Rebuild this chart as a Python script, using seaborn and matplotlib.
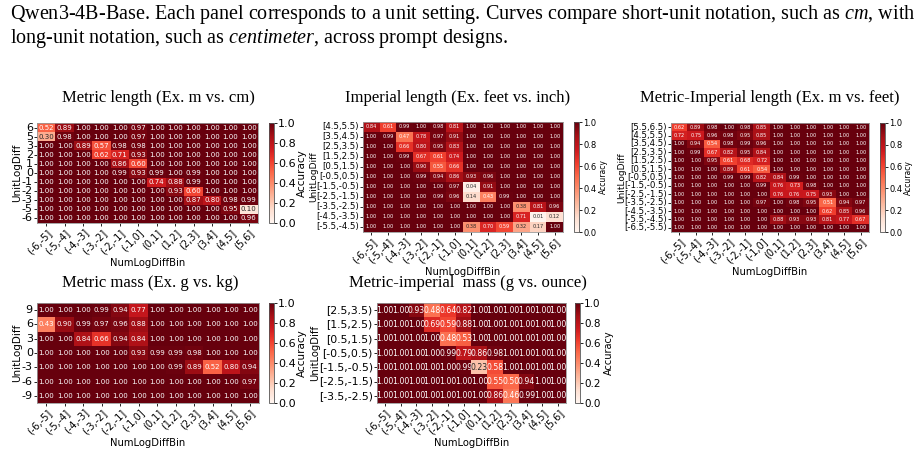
#!/usr/bin/env python3
import matplotlib
matplotlib.use("Agg")
import matplotlib.pyplot as plt
import pandas as pd
import numpy as np
import seaborn as sns

# colonne comuni a tutti i pannelli
num_bins = ["(-6,-5]", "(-5,-4]", "(-4,-3]", "(-3,-2]", "(-2,-1]", "(-1,0]",
            "(0,1]", "(1,2]", "(2,3]", "(3,4]", "(4,5]", "(5,6]"]

# Metric length (Ex. m vs. cm)
metric_len_rows = ["6", "5", "3", "2", "1", "0", "-1", "-2", "-3", "-5", "-6"]
metric_len = [
    [0.52, 0.89, 1.00, 1.00, 1.00, 0.97, 1.00, 1.00, 1.00, 1.00, 1.00, 1.00],
    [0.30, 0.98, 1.00, 1.00, 1.00, 0.97, 1.00, 1.00, 1.00, 1.00, 1.00, 1.00],
    [1.00, 1.00, 0.89, 0.57, 0.98, 0.98, 1.00, 1.00, 1.00, 1.00, 1.00, 1.00],
    [1.00, 1.00, 1.00, 0.62, 0.71, 0.93, 1.00, 1.00, 1.00, 1.00, 1.00, 1.00],
    [1.00, 1.00, 1.00, 1.00, 0.86, 0.60, 1.00, 1.00, 1.00, 1.00, 1.00, 1.00],
    [1.00, 1.00, 1.00, 1.00, 0.99, 0.93, 0.99, 1.00, 0.99, 1.00, 1.00, 1.00],
    [1.00, 1.00, 1.00, 1.00, 1.00, 1.00, 0.74, 0.88, 0.99, 1.00, 1.00, 1.00],
    [1.00, 1.00, 1.00, 1.00, 1.00, 1.00, 1.00, 0.93, 0.60, 1.00, 1.00, 1.00],
    [1.00, 1.00, 1.00, 1.00, 1.00, 1.00, 1.00, 1.00, 0.87, 0.80, 0.98, 0.99],
    [1.00, 1.00, 1.00, 1.00, 1.00, 1.00, 1.00, 1.00, 1.00, 1.00, 0.95, 0.10],
    [1.00, 1.00, 1.00, 1.00, 1.00, 1.00, 1.00, 1.00, 1.00, 1.00, 1.00, 0.96],
]

# Imperial length (Ex. feet vs. inch)
imp_len_rows = ["[4.5,5.5)", "[3.5,4.5)", "[2.5,3.5)", "[1.5,2.5)", "[0.5,1.5)",
                "[-0.5,0.5)", "[-1.5,-0.5)", "[-2.5,-1.5)", "[-3.5,-2.5)",
                "[-4.5,-3.5)", "[-5.5,-4.5)"]
imp_len = [
    [0.84, 0.61, 0.99, 1.00, 0.98, 0.81, 1.00, 1.00, 1.00, 1.00, 1.00, 1.00],
    [1.00, 0.99, 0.47, 0.78, 0.97, 0.91, 1.00, 1.00, 1.00, 1.00, 1.00, 1.00],
    [1.00, 1.00, 0.66, 0.80, 0.95, 0.83, 1.00, 1.00, 1.00, 1.00, 1.00, 1.00],
    [1.00, 1.00, 0.99, 0.67, 0.61, 0.74, 1.00, 1.00, 1.00, 1.00, 1.00, 1.00],
    [1.00, 1.00, 1.00, 0.90, 0.55, 0.66, 1.00, 1.00, 1.00, 1.00, 1.00, 1.00],
    [1.00, 1.00, 1.00, 0.99, 0.94, 0.86, 0.93, 0.96, 1.00, 1.00, 1.00, 1.00],
    [1.00, 1.00, 1.00, 1.00, 1.00, 0.97, 0.04, 0.91, 1.00, 1.00, 1.00, 1.00],
    [1.00, 1.00, 1.00, 1.00, 0.99, 0.96, 0.14, 0.43, 0.99, 1.00, 1.00, 1.00],
    [1.00, 1.00, 1.00, 1.00, 1.00, 1.00, 1.00, 1.00, 1.00, 0.38, 0.81, 0.96],
    [1.00, 1.00, 1.00, 1.00, 1.00, 1.00, 1.00, 1.00, 1.00, 0.71, 0.01, 0.12],
    [1.00, 1.00, 1.00, 1.00, 1.00, 1.00, 0.38, 0.70, 0.59, 0.32, 0.17, 1.00],
]

# Metric-Imperial length (Ex. m vs. feet)
mi_len_rows = ["[5.5,6.5)", "[4.5,5.5)", "[3.5,4.5)", "[2.5,3.5)", "[1.5,2.5)",
               "[0.5,1.5)", "[-0.5,0.5)", "[-1.5,-0.5)", "[-2.5,-1.5)",
               "[-3.5,-2.5)", "[-4.5,-3.5)", "[-5.5,-4.5)", "[-6.5,-5.5)"]
mi_len = [
    [0.62, 0.89, 0.98, 1.00, 0.98, 0.85, 1.00, 1.00, 1.00, 1.00, 1.00, 1.00],
    [0.72, 0.75, 0.96, 0.98, 0.95, 0.85, 1.00, 1.00, 1.00, 1.00, 1.00, 1.00],
    [1.00, 0.94, 0.54, 0.98, 0.99, 0.96, 1.00, 1.00, 1.00, 1.00, 1.00, 1.00],
    [1.00, 0.99, 0.67, 0.82, 0.95, 0.84, 1.00, 1.00, 1.00, 1.00, 1.00, 1.00],
    [1.00, 1.00, 0.95, 0.61, 0.68, 0.72, 1.00, 1.00, 1.00, 1.00, 1.00, 1.00],
    [1.00, 1.00, 1.00, 0.89, 0.61, 0.54, 1.00, 1.00, 1.00, 1.00, 1.00, 1.00],
    [1.00, 1.00, 1.00, 0.99, 0.99, 0.82, 0.84, 0.99, 1.00, 1.00, 1.00, 1.00],
    [1.00, 1.00, 1.00, 1.00, 1.00, 0.99, 0.76, 0.73, 0.98, 1.00, 1.00, 1.00],
    [1.00, 1.00, 1.00, 1.00, 1.00, 1.00, 0.76, 0.76, 0.75, 0.93, 1.00, 1.00],
    [1.00, 1.00, 1.00, 1.00, 1.00, 0.97, 1.00, 0.98, 0.95, 0.51, 0.94, 0.97],
    [1.00, 1.00, 1.00, 1.00, 1.00, 1.00, 1.00, 1.00, 1.00, 0.62, 0.85, 0.96],
    [1.00, 1.00, 1.00, 1.00, 1.00, 1.00, 0.88, 0.93, 0.93, 0.81, 0.77, 0.67],
    [1.00, 1.00, 1.00, 1.00, 1.00, 1.00, 1.00, 1.00, 1.00, 1.00, 1.00, 1.00],
]

# Metric mass (Ex. g vs. kg)
metric_mass_rows = ["9", "6", "3", "0", "-3", "-6", "-9"]
metric_mass = [
    [1.00, 1.00, 1.00, 0.99, 0.94, 0.77, 1.00, 1.00, 1.00, 1.00, 1.00, 1.00],
    [0.43, 0.90, 0.99, 0.97, 0.96, 0.88, 1.00, 1.00, 1.00, 1.00, 1.00, 1.00],
    [1.00, 1.00, 0.84, 0.66, 0.94, 0.84, 1.00, 1.00, 1.00, 1.00, 1.00, 1.00],
    [1.00, 1.00, 1.00, 1.00, 1.00, 0.93, 0.99, 0.99, 0.98, 1.00, 1.00, 1.00],
    [1.00, 1.00, 1.00, 1.00, 1.00, 1.00, 1.00, 0.99, 0.89, 0.52, 0.80, 0.94],
    [1.00, 1.00, 1.00, 1.00, 1.00, 1.00, 1.00, 1.00, 1.00, 1.00, 1.00, 0.97],
    [1.00, 1.00, 1.00, 1.00, 1.00, 1.00, 1.00, 1.00, 1.00, 1.00, 1.00, 1.00],
]

# Metric-imperial mass (g vs. ounce)
mi_mass_rows = ["[2.5,3.5)", "[1.5,2.5)", "[0.5,1.5)", "[-0.5,0.5)",
                "[-1.5,-0.5)", "[-2.5,-1.5)", "[-3.5,-2.5)"]
mi_mass = [
    [1.00, 1.00, 0.93, 0.48, 0.64, 0.82, 1.00, 1.00, 1.00, 1.00, 1.00, 1.00],
    [1.00, 1.00, 1.00, 0.69, 0.59, 0.88, 1.00, 1.00, 1.00, 1.00, 1.00, 1.00],
    [1.00, 1.00, 1.00, 1.00, 0.48, 0.53, 1.00, 1.00, 1.00, 1.00, 1.00, 1.00],
    [1.00, 1.00, 1.00, 1.00, 0.99, 0.79, 0.86, 0.98, 1.00, 1.00, 1.00, 1.00],
    [1.00, 1.00, 1.00, 1.00, 1.00, 0.99, 0.23, 0.58, 1.00, 1.00, 1.00, 1.00],
    [1.00, 1.00, 1.00, 1.00, 1.00, 1.00, 1.00, 0.55, 0.50, 0.94, 1.00, 1.00],
    [1.00, 1.00, 1.00, 1.00, 1.00, 1.00, 1.00, 0.86, 0.46, 0.99, 1.00, 1.00],
]

W, H = 920, 451
plt.rcParams['mathtext.fontset'] = 'custom'
plt.rcParams['mathtext.rm'] = 'Liberation Serif'
plt.rcParams['mathtext.it'] = 'Liberation Serif:italic'

fig = plt.figure(figsize=(W / 100, H / 100), dpi=100)


def px_axes(x0, y0, x1, y1):
    return fig.add_axes([x0 / W, 1 - y1 / H, (x1 - x0) / W, (y1 - y0) / H])


# (titolo, righe, dati, box heatmap, box colorbar, centro titolo, font annot, font ytick,
#  x centro ylabel, font ylabel, x centro label colorbar, font colorbar)
panels = [
    ("Metric length (Ex. m vs. cm)", metric_len_rows, metric_len,
     (37, 123, 258, 223), (269, 123, 274, 223), (158, 98), 5.0, 8, 17, 7.5, 302, 8),
    ("Imperial length (Ex. feet vs. inch)", imp_len_rows, imp_len,
     (363, 122, 563, 232), (574, 122, 579, 232), (458, 98), 3.6, 6.2, 314, 6.5, 603, 6.0),
    ("Metric-Imperial length (Ex. m vs. feet)", mi_len_rows, mi_len,
     (671, 123, 869, 232), (880, 123, 885, 232), (770, 98), 3.6, 6.2, 622, 6.5, 908, 6.0),
    ("Metric mass (Ex. g vs. kg)", metric_mass_rows, metric_mass,
     (37, 303, 259, 403), (269, 303, 274, 403), (150, 283), 5.0, 8, 17, 7.5, 302, 8),
    ("Metric-imperial  mass (g vs. ounce)", mi_mass_rows, mi_mass,
     (377, 303, 566, 403), (575, 303, 580, 403), (468, 283), 5.6, 7.8, 315, 7.2, 609, 7.5),
]

for title, rows, data, box, cbox, tpos, afs, yfs, ylx, ylfs, clx, cfs in panels:
    df = pd.DataFrame(data, index=rows, columns=num_bins)
    ax = px_axes(*box)
    cax = px_axes(*cbox)
    sns.heatmap(df, ax=ax, cmap='Reds', vmin=0, vmax=1, annot=True, fmt='.2f',
                annot_kws={'size': afs}, cbar_ax=cax,
                xticklabels=True, yticklabels=True,
                cbar_kws={'label': 'Accuracy', 'ticks': [0, 0.2, 0.4, 0.6, 0.8, 1.0]})
    ax.set_xlabel('NumLogDiffBin', fontsize=7.2, labelpad=2)
    ax.set_ylabel('UnitLogDiff', fontsize=ylfs, ha='center', va='center',
                  rotation_mode='anchor')
    ax.yaxis.set_label_coords((ylx - box[0]) / (box[2] - box[0]), 0.5)
    plt.setp(ax.get_xticklabels(), rotation=45, ha='right', rotation_mode='anchor', fontsize=7)
    plt.setp(ax.get_yticklabels(), rotation=0, fontsize=yfs)
    ax.tick_params(length=2, width=0.6, pad=1)
    for s in ax.spines.values():
        s.set_visible(True)
        s.set_color('#999999')
        s.set_linewidth(0.6)
    cax.tick_params(labelsize=cfs, length=2, width=0.6, pad=1)
    lab = cax.yaxis.label
    lab.set_size(cfs - 0.5)
    lab.set_ha('center')
    lab.set_va('center')
    lab.set_rotation_mode('anchor')
    cax.yaxis.set_label_coords((clx - cbox[0]) / (cbox[2] - cbox[0]), 0.5)
    cb = ax.collections[0].colorbar
    cb.outline.set_linewidth(0.6)
    cb.outline.set_edgecolor('#555555')
    fig.text(tpos[0] / W, 1 - tpos[1] / H, title, ha='center', va='center',
             fontsize=12, family='Liberation Serif')

# didascalia in alto
fig.text(10 / W, 1 - 15 / H,
         r"Qwen3-4B-Base. Each panel corresponds to a unit setting. Curves compare short-unit notation, such as $\mathit{cm}$, with",
         ha='left', va='center', fontsize=14.5, family='Liberation Serif')
fig.text(10 / W, 1 - 39 / H,
         r"long-unit notation, such as $\mathit{centimeter}$, across prompt designs.",
         ha='left', va='center', fontsize=14.5, family='Liberation Serif')

fig.savefig('out.png', dpi=100)
